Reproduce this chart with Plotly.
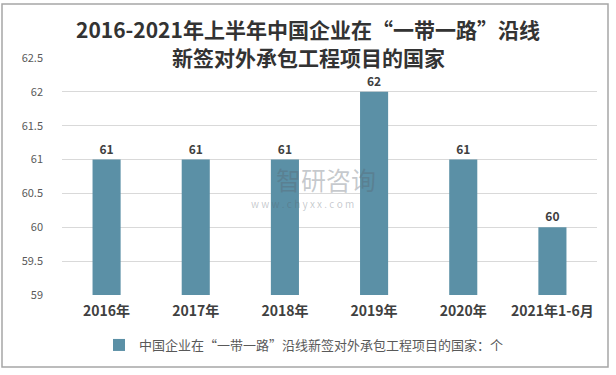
import plotly.graph_objects as go

categories = ["2016年", "2017年", "2018年", "2019年", "2020年", "2021年1-6月"]
values = [61, 61, 61, 62, 61, 60]
series_name = "中国企业在“一带一路”沿线新签对外承包工程项目的国家：个"
title_line1 = "2016-2021年上半年中国企业在“一带一路”沿线"
title_line2 = "新签对外承包工程项目的国家"
y_ticks = [59, 59.5, 60, 60.5, 61, 61.5, 62, 62.5]

FONT = "Noto Sans CJK SC, Noto Sans, sans-serif"
BAR = "#5B90A6"
W, H = 616, 375
L, R, T, B = 62, 19, 58, 80
PW, PH = W - L - R, H - T - B


def px(x):
    return (x - L) / PW


def py(y):
    return (H - B - y) / PH


fig = go.Figure()
fig.add_trace(go.Bar(
    x=categories, y=values, name=series_name,
    marker=dict(color=BAR, line=dict(width=0)),
    text=[str(v) for v in values], textposition="outside",
    textfont=dict(size=12, color="#404040", family=FONT, weight="bold"),
    cliponaxis=False,
))

fig.update_layout(
    width=W, height=H,
    margin=dict(l=L, r=R, t=T, b=B),
    paper_bgcolor="white", plot_bgcolor="white",
    font=dict(family=FONT, color="#595959"),
    bargap=0.685,
    showlegend=True,
    legend=dict(orientation="h", x=px(304), xanchor="center", y=py(345), yanchor="middle",
                font=dict(size=13, color="#595959", family=FONT),
                itemwidth=30, itemsizing="constant"),
    xaxis=dict(showline=False, showgrid=False, ticks="", ticklabelstandoff=6,
               tickfont=dict(size=14, color="#404040", family=FONT, weight="bold")),
    yaxis=dict(range=[59, 62.5], tickvals=y_ticks, ticktext=[f"{t:g}" for t in y_ticks],
               showgrid=True, gridcolor="#D9D9D9", gridwidth=1, zeroline=False,
               showline=False, ticks="", ticklabelstandoff=18,
               tickfont=dict(size=11, color="#595959", family=FONT)),
    shapes=[dict(type="rect", xref="paper", yref="paper",
                 x0=px(2), x1=px(608), y0=py(367), y1=py(4),
                 line=dict(color="#A6A6A6", width=1.5), fillcolor="rgba(0,0,0,0)", layer="below")],
    annotations=[
        dict(text="<b>" + title_line1 + "</b>", xref="paper", yref="paper", x=px(308), y=py(29),
             xanchor="center", yanchor="middle", showarrow=False,
             font=dict(size=21, color="#333333", family=FONT)),
        dict(text="<b>" + title_line2 + "</b>", xref="paper", yref="paper", x=px(308), y=py(57),
             xanchor="center", yanchor="middle", showarrow=False,
             font=dict(size=21, color="#333333", family=FONT)),
        dict(text="智研咨询", xref="paper", yref="paper", x=px(326), y=py(179),
             xanchor="center", yanchor="middle",
             showarrow=False, font=dict(size=25, color="rgba(90,100,110,0.35)", family=FONT)),
        dict(text="w w w . c h y x x . c o m", xref="paper", yref="paper", x=px(302), y=py(203),
             xanchor="center", yanchor="middle",
             showarrow=False, font=dict(size=10, color="rgba(90,100,110,0.35)", family=FONT)),
    ],
)

fig.write_html("out.html", config={"displayModeBar": False},
               post_script="document.body.style.margin='0';")
